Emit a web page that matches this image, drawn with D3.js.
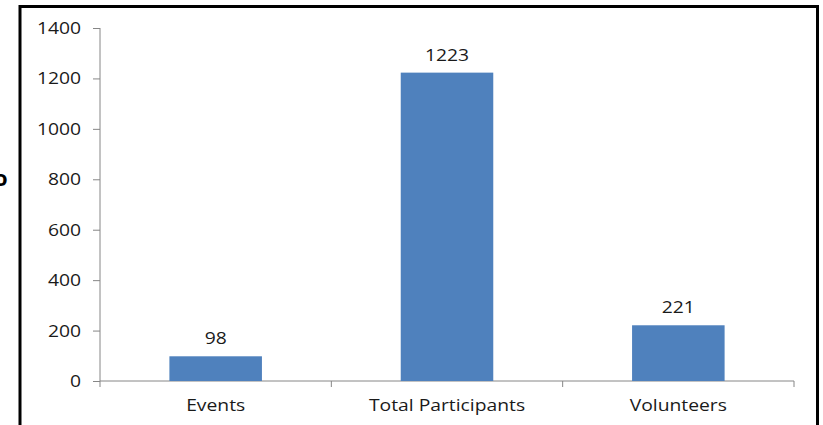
<!DOCTYPE html>
<html><head><meta charset="utf-8">
<script src="https://cdn.jsdelivr.net/npm/d3@7"></script>
<style>body{margin:0;background:#fff}svg{display:block}</style>
</head><body>
<svg id="c" width="823" height="425"></svg>
<script>
const categories = ["Events", "Total Participants", "Volunteers"];
const values = [98, 1223, 221];
const yTicks = [0, 200, 400, 600, 800, 1000, 1200, 1400];

const svg = d3.select("#c");
const font = "'Open Sans', sans-serif";
const fs = 17, sx = 1.135, tc = "#1a1a1a";
const x0 = 100, x1 = 794, yTop = 28, yBot = 381;

// outer frame
svg.append("path").attr("d", "M20,430 V6.5 H817.5 V430")
  .attr("fill", "none").attr("stroke", "#000").attr("stroke-width", 3);
// clipped artifact on left (as in reference)
svg.append("text").attr("x", -6).attr("y", 186).text("o")
  .attr("font-family", font).attr("font-weight", "bold").attr("font-size", 22).attr("fill", "#000");

const x = d3.scaleBand().domain(categories).range([x0, x1]).paddingInner(0.6).paddingOuter(0.3);
const y = d3.scaleLinear().domain([0, 1400]).range([yBot, yTop]);

function label(g, tx, ty, txt, anchor) {
  return g.append("text").attr("transform", `translate(${tx},${ty}) scale(${sx},1)`)
    .attr("text-anchor", anchor).attr("font-family", font).attr("font-size", fs).attr("fill", tc).text(txt);
}

// y axis
const ya = svg.append("g").attr("transform", `translate(${x0},0)`)
  .call(d3.axisLeft(y).tickValues(yTicks).tickSize(7).tickFormat(""));
ya.select(".domain").attr("stroke", "#868686").attr("d", `M0,${yTop}V${yBot}`);
ya.selectAll(".tick line").attr("stroke", "#868686");
yTicks.forEach(v => label(svg, 81, y(v) + 6, String(v), "end"));

// x axis
const xa = svg.append("g").attr("transform", `translate(0,${yBot})`);
xa.append("line").attr("x1", x0).attr("x2", x1).attr("stroke", "#868686");
const bw = (x1 - x0) / categories.length;
const bounds = d3.range(categories.length + 1).map(i => x0 + i * bw);
xa.selectAll("line.t").data(bounds).join("line").attr("class", "t")
  .attr("x1", d => d).attr("x2", d => d).attr("y1", 0).attr("y2", 6).attr("stroke", "#868686");
categories.forEach(c => label(svg, x(c) + x.bandwidth() / 2, 411, c, "middle"));

// bars
svg.selectAll("rect.bar").data(values).join("rect").attr("class", "bar")
  .attr("x", (d, i) => x(categories[i])).attr("width", x.bandwidth())
  .attr("y", d => y(d)).attr("height", d => yBot - y(d)).attr("fill", "#4f81bd");
values.forEach((v, i) => label(svg, x(categories[i]) + x.bandwidth() / 2, y(v) - 12, String(v), "middle"));
</script>
</body></html>
